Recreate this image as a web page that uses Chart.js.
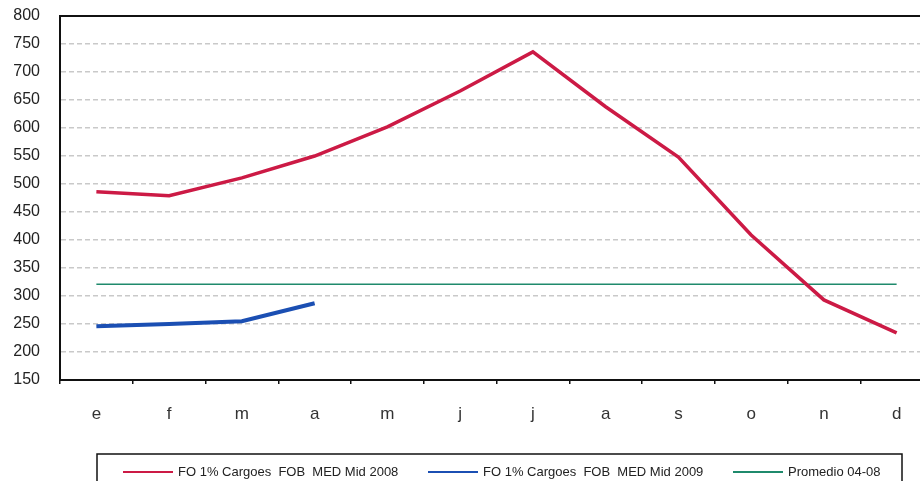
<!DOCTYPE html>
<html>
<head>
<meta charset="utf-8">
<script src="https://cdn.jsdelivr.net/npm/chart.js@4/dist/chart.umd.min.js"></script>
<style>
  html, body { margin: 0; padding: 0; background: #fff; }
  #wrap { width: 920px; height: 481px; overflow: hidden; position: relative; }
  #box { width: 940px; height: 481px; }
</style>
</head>
<body>
<div id="wrap"><div id="box"><canvas id="chart"></canvas></div></div>
<script>
// months (Spanish initials)
const months = ["e", "f", "m", "a", "m", "j", "j", "a", "s", "o", "n", "d"];

// USD/t
const fo2008 = [486, 479, 511, 550, 602, 666, 736, 638, 548, 409, 293, 234];
const fo2009 = [246, 250, 255, 287, null, null, null, null, null, null, null, null];
const avg0408 = [321, 321, 321, 321, 321, 321, 321, 321, 321, 321, 321, 321];

const yTicks = [150, 200, 250, 300, 350, 400, 450, 500, 550, 600, 650, 700, 750, 800];

const seriesNames = [
    "FO 1% Cargoes  FOB  MED Mid 2008",
    "FO 1% Cargoes  FOB  MED Mid 2009",
    "Promedio 04-08"
];

// top border of the plot + boxed legend underneath
const framePlugin = {
    id: "frame",
    afterDraw(chart) {
        const ctx = chart.ctx;
        const area = chart.chartArea;
        ctx.save();
        ctx.strokeStyle = "#111";
        ctx.lineWidth = 2;
        ctx.beginPath();
        ctx.moveTo(area.left, area.top);
        ctx.lineTo(area.right + 10, area.top);
        ctx.stroke();

        // legend box
        ctx.lineWidth = 1.5;
        ctx.strokeRect(97, 454, 805, 40);

        const slots = [123, 428, 733];
        ctx.font = "13px 'Liberation Sans', Arial, sans-serif";
        ctx.textBaseline = "middle";
        ctx.fillStyle = "#222";
        chart.data.datasets.forEach((ds, i) => {
            const x = slots[i];
            ctx.strokeStyle = ds.borderColor;
            ctx.lineWidth = 2;
            ctx.beginPath();
            ctx.moveTo(x, 472);
            ctx.lineTo(x + 50, 472);
            ctx.stroke();
            ctx.fillText(ds.label, x + 55, 472);
        });
        ctx.restore();
    }
};

new Chart(document.getElementById("chart"), {
    type: "line",
    data: {
        labels: months,
        datasets: [
            {
                label: seriesNames[0],
                data: fo2008,
                borderColor: "#cc1a45",
                borderWidth: 3.5,
                pointRadius: 0,
                tension: 0
            },
            {
                label: seriesNames[1],
                data: fo2009,
                borderColor: "#1b4fb3",
                borderWidth: 4,
                pointRadius: 0,
                tension: 0,
                spanGaps: false
            },
            {
                label: seriesNames[2],
                data: avg0408,
                borderColor: "#1f8a6c",
                borderWidth: 1.5,
                pointRadius: 0,
                tension: 0
            }
        ]
    },
    options: {
        responsive: true,
        maintainAspectRatio: false,
        animation: false,
        layout: { padding: { top: 16, right: 7, bottom: 56, left: 0 } },
        plugins: {
            legend: { display: false },
            tooltip: { enabled: false }
        },
        scales: {
            x: {
                offset: true,
                grid: {
                    offset: true,
                    drawOnChartArea: false,
                    drawTicks: true,
                    tickLength: 4,
                    color: "#111",
                    lineWidth: 1.5
                },
                border: { color: "#111", width: 2 },
                ticks: {
                    color: "#333",
                    padding: 20,
                    font: { family: "'Liberation Sans', Arial, sans-serif", size: 17 }
                },
                afterFit(scale) { scale.height = 45; }
            },
            y: {
                min: 150,
                max: 800,
                afterBuildTicks(scale) {
                    scale.ticks = yTicks.map(v => ({ value: v }));
                },
                grid: {
                    drawTicks: false,
                    color: ctx => (ctx.tick && (ctx.tick.value === 150 || ctx.tick.value === 800)) ? "rgba(0,0,0,0)" : "#c9c9c9",
                    lineWidth: 1.5
                },
                border: { color: "#111", width: 2, dash: [5, 3] },
                ticks: {
                    color: "#222",
                    padding: 20,
                    font: { family: "'Liberation Sans', Arial, sans-serif", size: 16 }
                },
                afterFit(scale) {
                    scale.width = 60;
                    scale.paddingTop = 0;
                    scale.paddingBottom = 0;
                }
            }
        }
    },
    plugins: [framePlugin]
});
</script>
</body>
</html>
